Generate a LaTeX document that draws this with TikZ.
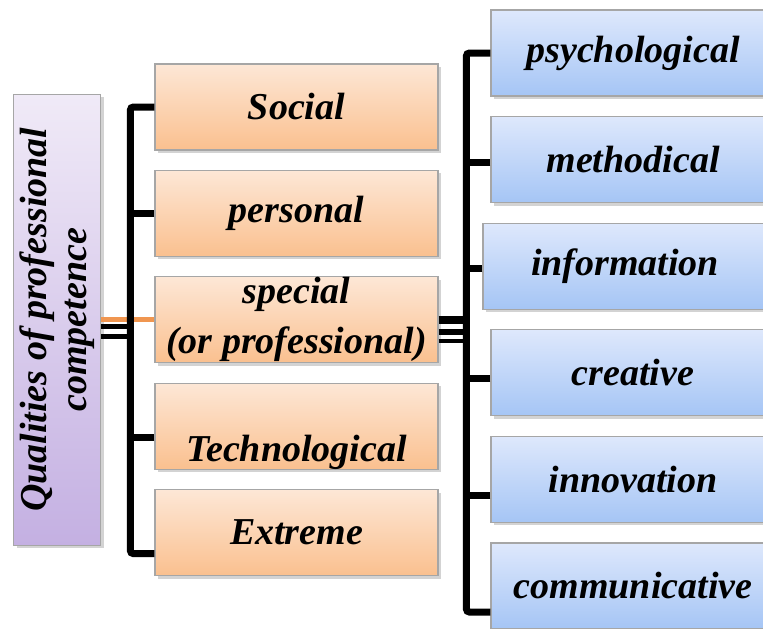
\documentclass[tikz,border=0pt]{standalone}
\usepackage{fontspec}
\setmainfont{Liberation Serif}
\usetikzlibrary{positioning,chains,shadows,calc}
\definecolor{orangetop}{RGB}{253,231,214}
\definecolor{orangebot}{RGB}{250,192,143}
\definecolor{bluetop}{RGB}{222,232,252}
\definecolor{bluebot}{RGB}{165,197,245}
\definecolor{purpletop}{RGB}{240,234,247}
\definecolor{purplebot}{RGB}{196,176,226}
\definecolor{linkorange}{RGB}{240,150,80}
\tikzset{
  boxtext/.style={
    font=\fontsize{19pt}{25pt}\selectfont\bfseries\itshape,
    align=center,
    inner sep=0pt},
  orangebox/.style={
    rectangle,
    draw=gray!70, line width=0.6pt,
    top color=orangetop, bottom color=orangebot,
    minimum width=141.5pt,
    minimum height=43pt,
    boxtext,
    drop shadow={opacity=0.35, shadow xshift=1.5pt, shadow yshift=-1.5pt},
    on chain},
  bluebox/.style={
    rectangle,
    draw=gray!70, line width=0.6pt,
    top color=bluetop, bottom color=bluebot,
    minimum width=142pt,
    minimum height=43pt,
    boxtext,
    drop shadow={opacity=0.35, shadow xshift=1.5pt, shadow yshift=-1.5pt},
    on chain},
  purplebox/.style={
    rectangle,
    draw=gray!70, line width=0.6pt,
    top color=purpletop, bottom color=purplebot,
    minimum width=43.5pt,
    minimum height=225.5pt,
    drop shadow={opacity=0.35, shadow xshift=1.5pt, shadow yshift=-1.5pt}},
  link/.style={draw=black, line width=3.5pt, rounded corners=1.5pt},
  orangelink/.style={draw=linkorange, line width=2.5pt},
}
\begin{document}
\begin{tikzpicture}[x=0.5pt, y=-0.5pt]
\useasboundingbox (0,0) rectangle (763,628);

% kinds of competence
\begin{scope}[start chain=going below, node distance=9.6pt]
\node[orangebox] (social) at (296.5,107) {Social};
\node[orangebox] (personal) {personal};
\node[orangebox] (special) {special\\(or professional)};
\node[orangebox] (techno) {};
\node[orangebox] (extreme) {Extreme};
\end{scope}
\node[boxtext] (technotext) at ([yshift=-13pt]techno.center) {Technological};

% parts of the special one
\begin{scope}[start chain=going below, node distance=9.7pt]
\node[bluebox] (psych) at (633,53) {psychological};
\node[bluebox] (method) {methodical};
\node[bluebox, xshift=-4pt] (info) {information};
\node[bluebox, xshift=4pt] (creative) {creative};
\node[bluebox] (innov) {innovation};
\node[bluebox] (comm) {communicative};
\end{scope}

\node[purplebox, left=26.5pt of special] (qual) {};
\node[boxtext, rotate=90, font=\fontsize{19pt}{20pt}\selectfont\bfseries\itshape]
  (qualtext) at (qual.center) {Qualities of professional\\competence};

% left bracket
\draw[orangelink] (qual.east |- special.west) -- (special.west);
\draw[link, line width=2.5pt] ($(qual.east |- special.west)+(0pt,-3.5pt)$) -- ++(14.5pt,0pt);
\draw[link, line width=2.5pt] ($(qual.east |- special.west)+(0pt,-8.5pt)$) -- ++(14.5pt,0pt);
\coordinate (lbot) at ($(extreme.west)+(0pt,-10.5pt)$);
\draw[link] (social.west) -- ++(-12pt,0pt) coordinate (ltop) |- (lbot);
\draw[link] (personal.west) -- ++(-12pt,0pt);
\draw[link] ($(techno.west)+(0pt,-5.5pt)$) -- ++(-12pt,0pt);

% right bracket
\draw[link, line width=4pt] (special.east) -- ++(14.5pt,0pt);
\draw[link, line width=3pt] ($(special.east)+(0pt,-6pt)$) -- ++(14.5pt,0pt);
\draw[link, line width=2pt] ($(special.east)+(0pt,-10.5pt)$) -- ++(14.5pt,0pt);
\coordinate (rbot) at ($(comm.west)+(0pt,-13pt)$);
\draw[link] (psych.west) -- ++(-12pt,0pt) coordinate (rtop) |- (rbot);
\draw[link] ($(method.west)+(0pt,-1.5pt)$) -- ++(-12pt,0pt);
\draw[link] ($(info.west)+(0pt,-1pt)$) -- ++(-8pt,0pt);
\draw[link] ($(creative.west)+(0pt,-3pt)$) -- ++(-12pt,0pt);
\draw[link] ($(innov.west)+(0pt,-8pt)$) -- ++(-12pt,0pt);

\end{tikzpicture}
\end{document}
